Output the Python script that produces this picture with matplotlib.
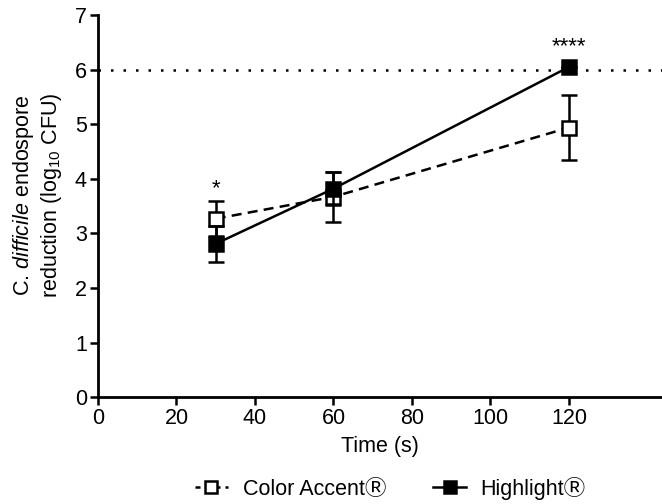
import matplotlib
matplotlib.use("Agg")
import matplotlib.pyplot as plt
from matplotlib.lines import Line2D

plt.rcParams['font.family'] = ['Liberation Sans', 'DejaVu Sans', 'Noto Sans CJK SC']
plt.rcParams['mathtext.fontset'] = 'custom'
plt.rcParams['mathtext.rm'] = 'Liberation Sans'
plt.rcParams['mathtext.it'] = 'Liberation Sans:italic'

time_s = [30, 60, 120]
color_accent = [3.27, 3.67, 4.94]
color_accent_err = [0.32, 0.46, 0.60]
highlight = [2.81, 3.82, 6.05]
highlight_err = [0.33, 0.30, 0.0]
series_names = ['Color Accent\u24c7', 'Highlight\u24c7']
sig_labels = ["*", "", "****"]
sig_y = [3.82, None, 6.42]
threshold = 6
xticks = [0, 20, 40, 60, 80, 100, 120]
yticks = [0, 1, 2, 3, 4, 5, 6, 7]

fig = plt.figure(figsize=(6.62, 5.04), dpi=100)
ax = fig.add_axes([0.148, 0.212, 0.852, 0.758])

ax.axhline(threshold, color='black', linestyle=(0, (1, 4)), linewidth=1.8, zorder=1)

lw = 1.8
ax.errorbar(time_s, color_accent, yerr=color_accent_err, color='black', linestyle='--',
            dashes=(4, 2.5), linewidth=lw, marker='s', markersize=10, markerfacecolor='white',
            markeredgecolor='black', markeredgewidth=lw, capsize=6, capthick=lw,
            elinewidth=lw, zorder=3)
ax.errorbar(time_s, highlight, yerr=highlight_err, color='black', linestyle='-',
            linewidth=lw, marker='s', markersize=10, markerfacecolor='black',
            markeredgecolor='black', markeredgewidth=lw, capsize=6, capthick=lw,
            elinewidth=lw, zorder=4)

for x, s, y in zip(time_s, sig_labels, sig_y):
    if s:
        ax.text(x, y, s, ha='center', va='center', fontsize=16)

ax.set_xlim(0, 143.7)
ax.set_ylim(0, 7)
ax.set_xticks(xticks)
ax.set_yticks(yticks)
ax.spines['top'].set_visible(False)
ax.spines['right'].set_visible(False)
for sp in ['left', 'bottom']:
    ax.spines[sp].set_linewidth(2)
ax.tick_params(axis='both', direction='out', length=6, width=1.8, labelsize=15.5, pad=2)

ax.set_xlabel('Time (s)', fontsize=15.5, labelpad=5)
ax.set_ylabel('C. $\\mathit{difficile}$ endospore\nreduction (log$_{10}$ CFU)', fontsize=15.5)
ax.yaxis.set_label_coords(-0.06, 0.528)

handles = [
    Line2D([], [], color='black', linestyle='--', dashes=(2, 2), linewidth=lw, marker='s',
           markersize=8, markerfacecolor='white', markeredgecolor='black', markeredgewidth=lw),
    Line2D([], [], color='black', linestyle='-', linewidth=lw, marker='s',
           markersize=8, markerfacecolor='black', markeredgecolor='black', markeredgewidth=lw),
]
fig.legend(handles, series_names, loc='lower center', bbox_to_anchor=(0.59, -0.03), ncol=2,
           frameon=False, fontsize=15.5, handlelength=1.5, columnspacing=2.2, handletextpad=0.7)

fig.savefig('out.png', dpi=100)
